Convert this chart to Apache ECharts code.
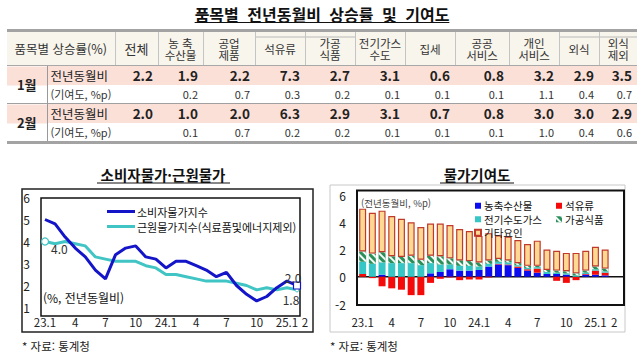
<!DOCTYPE html>
<html lang="ko">
<head>
<meta charset="utf-8">
<script src="https://cdn.jsdelivr.net/npm/echarts@6/dist/echarts.min.js"></script>
<style>
  html, body { margin: 0; padding: 0; background: #fff; }
  body { width: 644px; height: 353px; position: relative; overflow: hidden;
    font-family: 'Noto Sans CJK KR', sans-serif; color: #222; }
  #chart { position: absolute; left: 0; top: 0; width: 644px; height: 353px; }
  #table-wrap { position: absolute; left: 0; top: 0; width: 644px; height: 150px; z-index: 2; }
  .ttl { position: absolute; left: 0; width: 644px; top: 3px; text-align: center;
    font-size: 16px; font-weight: bold; line-height: 22px; text-decoration: underline;
    word-spacing: 4px; color: #111; }
  table { position: absolute; left: 7px; top: 29px; width: 630px; table-layout: fixed;
    border-collapse: collapse; border-top: 3px solid #a3a3a3; border-bottom: 3px solid #a3a3a3; }
  th { background: #f8f5ec; font-weight: normal; font-size: 11.5px; line-height: 12px;
    height: 33px; padding: 0; border-left: 1px solid #c4c4c4; border-bottom: 1px solid #a8a8a8;
    white-space: pre-line; color: #333; }
  th:first-child { border-left: none; font-size: 12.5px; }
  th.big { font-size: 13px; }
  th.sub { background: linear-gradient(#f8f5ec 0 4px, #b8b8b8 4px 5px, #f8f5ec 5px); }
  td { padding: 0 5px 0 0; text-align: right; white-space: nowrap; }
  tr.rate td { background: #fbe0d8; height: 19px; font-size: 13.5px; font-weight: bold; line-height: 19px; }
  tr.contrib td { height: 18px; font-size: 11px; line-height: 18px; color: #333; }
  tr.grp td { border-top: 1.5px solid #a0a0a0; }
  tr.rate td.mon { text-align: center; font-size: 13px; padding: 0;
    background: linear-gradient(#fbe0d8 0 19px, #fff 19px); border-right: 1px solid #999; }
  td.lab { text-align: left; padding-left: 3px; }
  tr.rate td.lab { font-weight: normal; font-size: 12.5px; }
</style>
</head>
<body>
<div id="chart"></div>
<div id="table-wrap">
  <div class="ttl">품목별 전년동월비 상승률 및 기여도</div>
  <table id="tbl">
    <colgroup>
      <col style="width:40px"><col style="width:68px">
      <col style="width:43px"><col style="width:45px"><col style="width:52px">
      <col style="width:50px"><col style="width:50px"><col style="width:50px">
      <col style="width:50px"><col style="width:54px"><col style="width:50px">
      <col style="width:40px"><col style="width:38px">
    </colgroup>
    <tbody id="tbody"></tbody>
  </table>
</div>
<script>
// 표 데이터
var tableCols = ['전체', '농 축\n수산물', '공업\n제품', '석유류', '가공\n식품', '전기가스\n수도',
  '집세', '공공\n서비스', '개인\n서비스', '외식', '외식\n제외'];
var subCols = [3, 4, 9, 10];
var janRate = [2.2, 1.9, 2.2, 7.3, 2.7, 3.1, 0.6, 0.8, 3.2, 2.9, 3.5];
var janContrib = [null, 0.2, 0.7, 0.3, 0.2, 0.1, 0.1, 0.1, 1.1, 0.4, 0.7];
var febRate = [2.0, 1.0, 2.0, 6.3, 2.9, 3.1, 0.7, 0.8, 3.0, 3.0, 2.9];
var febContrib = [null, 0.1, 0.7, 0.2, 0.2, 0.1, 0.1, 0.1, 1.0, 0.4, 0.6];

// 차트 데이터 (23.1 ~ 25.2)
var months = ['23.1', '23.2', '23.3', '23.4', '23.5', '23.6', '23.7', '23.8', '23.9', '23.10',
  '23.11', '23.12', '24.1', '24.2', '24.3', '24.4', '24.5', '24.6', '24.7', '24.8', '24.9',
  '24.10', '24.11', '24.12', '25.1', '25.2'];
var cpi = [5.0, 4.8, 4.2, 3.7, 3.3, 2.7, 2.3, 3.4, 3.7, 3.8, 3.3, 3.2, 2.8, 3.1, 3.1, 2.9,
  2.7, 2.4, 2.6, 2.0, 1.6, 1.3, 1.5, 1.9, 2.2, 2.0];
var core = [4.0, 3.9, 4.0, 3.9, 3.8, 3.3, 3.2, 3.1, 3.1, 3.1, 2.9, 2.8, 2.5, 2.5, 2.4, 2.3,
  2.2, 2.2, 2.2, 2.1, 2.0, 1.8, 1.9, 1.8, 1.9, 1.8];
var agri = [0, 0, 0.15, 0, 0, 0, 0, 0.25, 0.35, 0.55, 0.45, 0.45, 0.5, 0.75, 0.9, 0.85,
  0.65, 0.45, 0.3, 0.2, 0.2, 0.15, 0, 0.15, 0.15, 0.1];
var oil = [0.2, -0.1, -0.7, -0.85, -0.95, -1.35, -1.35, -0.45, -0.15, -0.05, -0.25, -0.2,
  -0.2, -0.05, 0.05, 0.05, 0.1, 0.1, 0.3, 0, -0.3, -0.45, -0.25, 0.05, 0.3, 0.2];
var util = [0.9, 0.95, 0.9, 1.0, 1.0, 1.0, 0.85, 0.75, 0.55, 0.35, 0.35, 0.35, 0.25, 0.2,
  0.15, 0.15, 0.1, 0.1, 0.1, 0.15, 0.1, 0.1, 0.1, 0.1, 0.1, 0.1];
var food = [0.75, 0.75, 0.75, 0.5, 0.45, 0.55, 0.4, 0.55, 0.6, 0.45, 0.4, 0.35, 0.3, 0.25,
  0.2, 0.15, 0.15, 0.15, 0.1, 0.15, 0.15, 0.15, 0.15, 0.15, 0.2, 0.2];
var other = [3.15, 3.0, 3.05, 2.95, 2.8, 2.45, 2.4, 2.35, 2.4, 2.45, 2.3, 2.2, 1.95, 2.0,
  1.75, 1.75, 1.7, 1.6, 1.85, 1.5, 1.45, 1.35, 1.5, 1.45, 1.45, 1.4];
var lineTicks = [1, 6];
var barTicks = [-2, 6];

(function () {
  var FONT = "'Noto Sans CJK KR', sans-serif";

  // 표 만들기
  function fmt(v) { return v === null ? '' : v.toFixed(1); }
  var html = '<tr><th colspan="2">품목별 상승률(%)</th>';
  tableCols.forEach(function (c, i) {
    var cls = i === 0 ? 'big' : (subCols.indexOf(i) >= 0 ? 'sub' : '');
    html += '<th class="' + cls + '">' + c + '</th>';
  });
  html += '</tr>';
  [['1월', janRate, janContrib], ['2월', febRate, febContrib]].forEach(function (g, gi) {
    html += '<tr class="rate' + (gi ? ' grp' : '') + '"><td rowspan="2" class="mon">' + g[0] +
      '</td><td class="lab">전년동월비</td>';
    g[1].forEach(function (v) { html += '<td>' + fmt(v) + '</td>'; });
    html += '</tr><tr class="contrib"><td class="lab">(기여도, %p)</td>';
    g[2].forEach(function (v) { html += '<td>' + fmt(v) + '</td>'; });
    html += '</tr>';
  });
  document.getElementById('tbody').innerHTML = html;

  var chart = echarts.init(document.getElementById('chart'), null, { renderer: 'svg' });

  function monthLabel(value, index) {
    var m = value.split('.')[1];
    if (index === months.length - 1) return '{last|' + m + '}';
    return m === '1' ? value : m;
  }
  function showTick(index) {
    return index % 3 === 0 || index === months.length - 1;
  }
  function oneDecimal(p) { return p.value.toFixed(1); }

  var cpiData = cpi.map(function (v, i) {
    if (i === cpi.length - 1) {
      return {
        value: v, symbol: 'rect', symbolSize: 7,
        itemStyle: { color: '#fff', borderColor: '#1414c8', borderWidth: 1.2 },
        label: { show: true, position: 'top', distance: 0, offset: [-4, 2], formatter: oneDecimal },
      };
    }
    return { value: v, symbol: 'none' };
  });
  var coreData = core.map(function (v, i) {
    if (i === 0) {
      return {
        value: v, symbol: 'circle', symbolSize: 7,
        itemStyle: { color: '#fff', borderColor: '#40c4c4', borderWidth: 1.2 },
        label: { show: true, position: 'right', offset: [-3, 7], formatter: oneDecimal },
      };
    }
    if (i === core.length - 1) {
      return {
        value: v, symbol: 'circle', symbolSize: 4,
        itemStyle: { color: '#fff', borderColor: '#40c4c4', borderWidth: 1 },
        label: { show: true, position: 'bottom', distance: 1, offset: [-6, 0], formatter: oneDecimal },
      };
    }
    return { value: v, symbol: 'none' };
  });

  var axisText = { color: '#222', fontSize: 12, fontFamily: FONT };
  var xText = { color: '#222', fontSize: 11.5, fontFamily: FONT };
  var legendText = { fontSize: 10.5, lineHeight: 12.5, color: '#111', padding: [0, 0, 0, -2] };

  var option = {
    animation: false,
    textStyle: { fontFamily: FONT },
    grid: [
      { left: 45, right: 347, top: 197.5, bottom: 45.5 },
      { left: 357.8, right: 34, top: 195, bottom: 49 },
    ],
    legend: [
      {
        data: ['소비자물가지수', '근원물가지수(식료품및에너지제외)'],
        orient: 'vertical', left: 102, top: 200.5, icon: 'rect',
        itemWidth: 28, itemHeight: 3, itemGap: 3,
        textStyle: { fontSize: 11, lineHeight: 12, color: '#111', padding: [0, 0, 0, -3] },
      },
      {
        data: ['농축수산물', '전기수도가스', '기타요인'],
        orient: 'vertical', left: 469, top: 194.5, icon: 'rect',
        itemWidth: 6, itemHeight: 6, itemGap: 1, textStyle: legendText,
      },
      {
        data: ['석유류', '가공식품'],
        orient: 'vertical', left: 551, top: 194.5, icon: 'rect',
        itemWidth: 6, itemHeight: 6, itemGap: 1, textStyle: legendText,
      },
    ],
    xAxis: [
      {
        type: 'category', gridIndex: 0, data: months, boundaryGap: false,
        axisLine: { show: false }, axisTick: { show: false },
        axisLabel: Object.assign({ interval: showTick, formatter: monthLabel, margin: 9,
          rich: { last: { fontSize: 11.5, color: '#222', padding: [0, 0, 0, 16] } } }, xText),
      },
      {
        type: 'category', gridIndex: 1, data: months,
        axisLine: { show: false }, axisTick: { show: false },
        axisLabel: Object.assign({ interval: showTick, formatter: monthLabel, margin: 12,
          rich: { last: { fontSize: 11.5, color: '#222', padding: [0, 0, 0, 18] } } }, xText),
      },
    ],
    yAxis: [
      {
        type: 'value', gridIndex: 0, min: lineTicks[0], max: lineTicks[1], interval: 1,
        axisLine: { show: false }, axisTick: { show: false }, splitLine: { show: false },
        axisLabel: Object.assign({ margin: 15 }, axisText),
      },
      {
        type: 'value', gridIndex: 1, min: barTicks[0], max: barTicks[1], interval: 2,
        axisLine: { show: false }, axisTick: { show: false }, splitLine: { show: false },
        axisLabel: Object.assign({ margin: 12 }, axisText),
      },
    ],
    series: [
      {
        name: '근원물가지수(식료품및에너지제외)', type: 'line', xAxisIndex: 0, yAxisIndex: 0,
        data: coreData, showAllSymbol: true, silent: true,
        lineStyle: { color: '#40c4c4', width: 3 }, itemStyle: { color: '#40c4c4' },
        label: { color: '#333', fontSize: 12 },
      },
      {
        name: '소비자물가지수', type: 'line', xAxisIndex: 0, yAxisIndex: 0,
        data: cpiData, showAllSymbol: true, silent: true,
        lineStyle: { color: '#1414c8', width: 3 }, itemStyle: { color: '#1414c8' },
        label: { color: '#333', fontSize: 12 },
      },
      {
        name: '농축수산물', type: 'bar', xAxisIndex: 1, yAxisIndex: 1, stack: 'c',
        barWidth: 7, data: agri, silent: true, itemStyle: { color: '#0c0cf0' },
      },
      {
        name: '석유류', type: 'bar', xAxisIndex: 1, yAxisIndex: 1, stack: 'c',
        barWidth: 7, data: oil, silent: true, itemStyle: { color: '#f50a0a' },
      },
      {
        name: '전기수도가스', type: 'bar', xAxisIndex: 1, yAxisIndex: 1, stack: 'c',
        barWidth: 7, data: util, silent: true, itemStyle: { color: '#36c6c6' },
      },
      {
        name: '가공식품', type: 'bar', xAxisIndex: 1, yAxisIndex: 1, stack: 'c',
        barWidth: 7, data: food, silent: true,
        itemStyle: {
          color: '#2b8f5a',
          decal: { symbol: 'rect', symbolSize: 1, color: 'rgba(255,255,255,0.95)',
            dashArrayX: [1, 0], dashArrayY: [2, 2.5], rotation: Math.PI / 4 },
        },
      },
      {
        name: '기타요인', type: 'bar', xAxisIndex: 1, yAxisIndex: 1, stack: 'c',
        barWidth: 7, data: other, silent: true,
        itemStyle: { color: '#ffd991', borderColor: '#c0392b', borderWidth: 1.2 },
      },
    ],
  };
  chart.setOption(option);

  var zeroY = chart.convertToPixel({ yAxisIndex: 1 }, 0);
  function txt(text, x, y, size, weight, align, color) {
    return {
      type: 'text', x: x, y: y, silent: true,
      style: { text: text, fontSize: size, fontWeight: weight, fontFamily: FONT, fill: color || '#222',
        textAlign: align, align: align, textVerticalAlign: 'middle', verticalAlign: 'middle' },
    };
  }
  function frame(x, y, w, h, color, lw) {
    return { type: 'rect', silent: true, shape: { x: x, y: y, width: w, height: h },
      style: { fill: 'none', stroke: color, lineWidth: lw } };
  }
  function hline(x1, x2, y, color, lw) {
    return { type: 'line', silent: true, shape: { x1: x1, y1: y, x2: x2, y2: y },
      style: { stroke: color, lineWidth: lw } };
  }

  chart.setOption({
    graphic: {
      elements: [
        frame(22, 189, 291, 143, '#222', 1.5),
        frame(41, 198, 259, 118, '#111', 1.5),
        frame(330, 185, 295, 147, '#c8c8c8', 1),
        frame(357, 190.5, 267, 114.5, '#111', 2),
        hline(357, 624, zeroY, '#111', 1.5),
        txt('소비자물가·근원물가', 163, 174, 14.5, 'bold', 'center', '#111'),
        hline(97, 230, 183, '#111', 1),
        txt('물가기여도', 477, 174, 14.5, 'bold', 'center', '#111'),
        hline(440, 514, 183, '#111', 1),
        txt('(%, 전년동월비)', 43, 297, 12, 'normal', 'left', '#111'),
        txt('(전년동월비, %p)', 361, 203, 9.5, 'normal', 'left', '#444'),
        txt('* 자료: 통계청', 22, 346, 11.5, 'normal', 'left', '#222'),
        txt('* 자료: 통계청', 330, 346, 11.5, 'normal', 'left', '#222'),
      ],
    },
  });
})();
</script>
</body>
</html>
